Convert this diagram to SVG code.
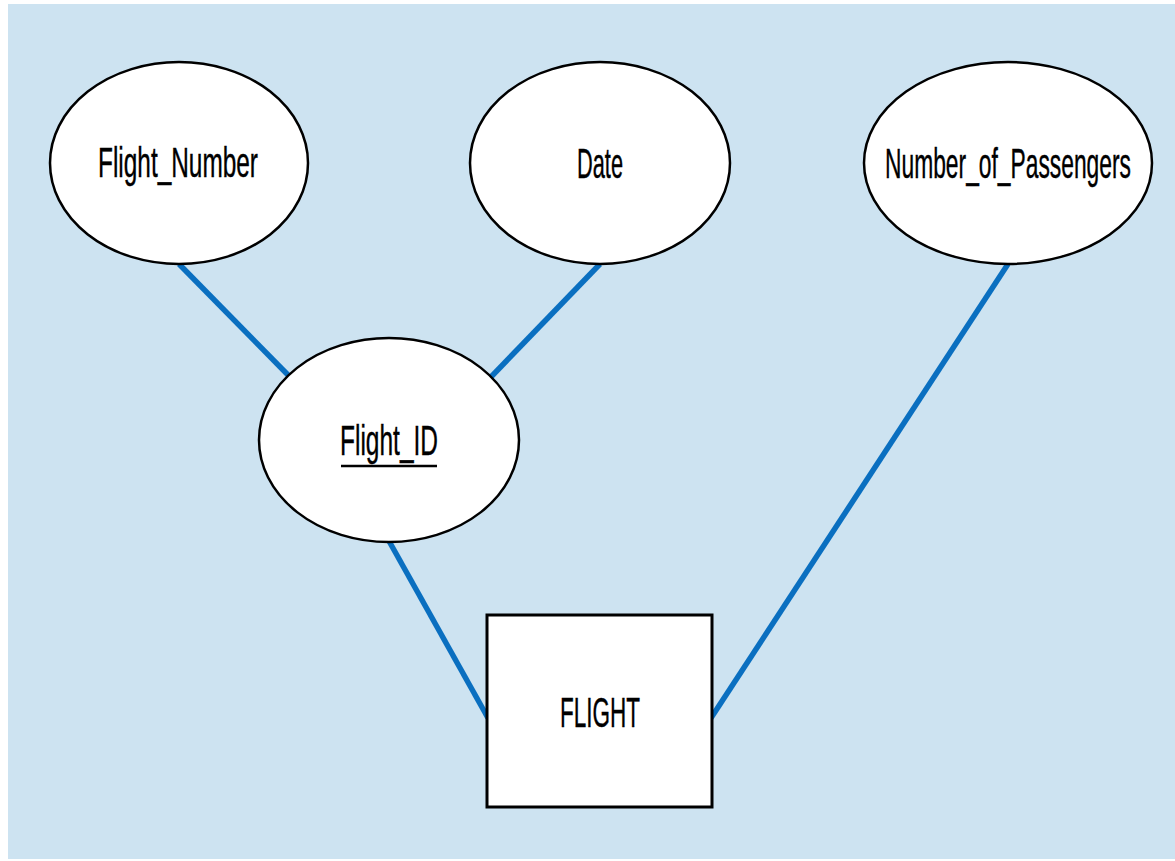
<svg xmlns="http://www.w3.org/2000/svg" width="1175" height="861" viewBox="0 0 1175 861">
<style>
.bg{fill:#cde3f1}
.attr{fill:#ffffff;stroke:#000;stroke-width:2.5}
.ent{fill:#ffffff;stroke:#000;stroke-width:3}
.lbl{font-family:"Liberation Sans",Arial,sans-serif;font-size:42px;fill:#000;stroke:#000;stroke-width:0.4;text-anchor:start}
.conn line{stroke:#0a6fc0;stroke-width:5.5;stroke-linecap:butt}
</style>
<rect x="0" y="0" width="1175" height="861" fill="#ffffff"/>
<rect class="bg" x="8" y="4" width="1167" height="855"/>
<g id="connectors" class="conn">
<line x1="179" y1="264" x2="291" y2="378"/>
<line x1="600" y1="264" x2="489" y2="379"/>
<line x1="389" y1="541" x2="488" y2="718"/>
<line x1="1008" y1="264" x2="711" y2="718"/>
</g>
<g id="flight_number">
<ellipse class="attr" cx="179" cy="163" rx="129" ry="101"/>
<text class="lbl" x="98" y="177" textLength="160" lengthAdjust="spacingAndGlyphs">Flight_Number</text>
</g>
<g id="date">
<ellipse class="attr" cx="600" cy="163" rx="130" ry="101"/>
<text class="lbl" x="577" y="178" textLength="46" lengthAdjust="spacingAndGlyphs">Date</text>
</g>
<g id="number_of_passengers">
<ellipse class="attr" cx="1008" cy="163" rx="144" ry="101"/>
<text class="lbl" x="885" y="178" textLength="246" lengthAdjust="spacingAndGlyphs">Number_of_Passengers</text>
</g>
<g id="flight_id">
<ellipse class="attr" cx="389" cy="440" rx="130" ry="102"/>
<text class="lbl" x="340" y="455" textLength="98" lengthAdjust="spacingAndGlyphs">Flight_ID</text>
<line x1="341" y1="466" x2="437" y2="466" stroke="#000" stroke-width="2.5"/>
</g>
<g id="flight">
<rect class="ent" x="487" y="615" width="225" height="192"/>
<text class="lbl" x="560" y="727" textLength="80" lengthAdjust="spacingAndGlyphs">FLIGHT</text>
</g>
</svg>
